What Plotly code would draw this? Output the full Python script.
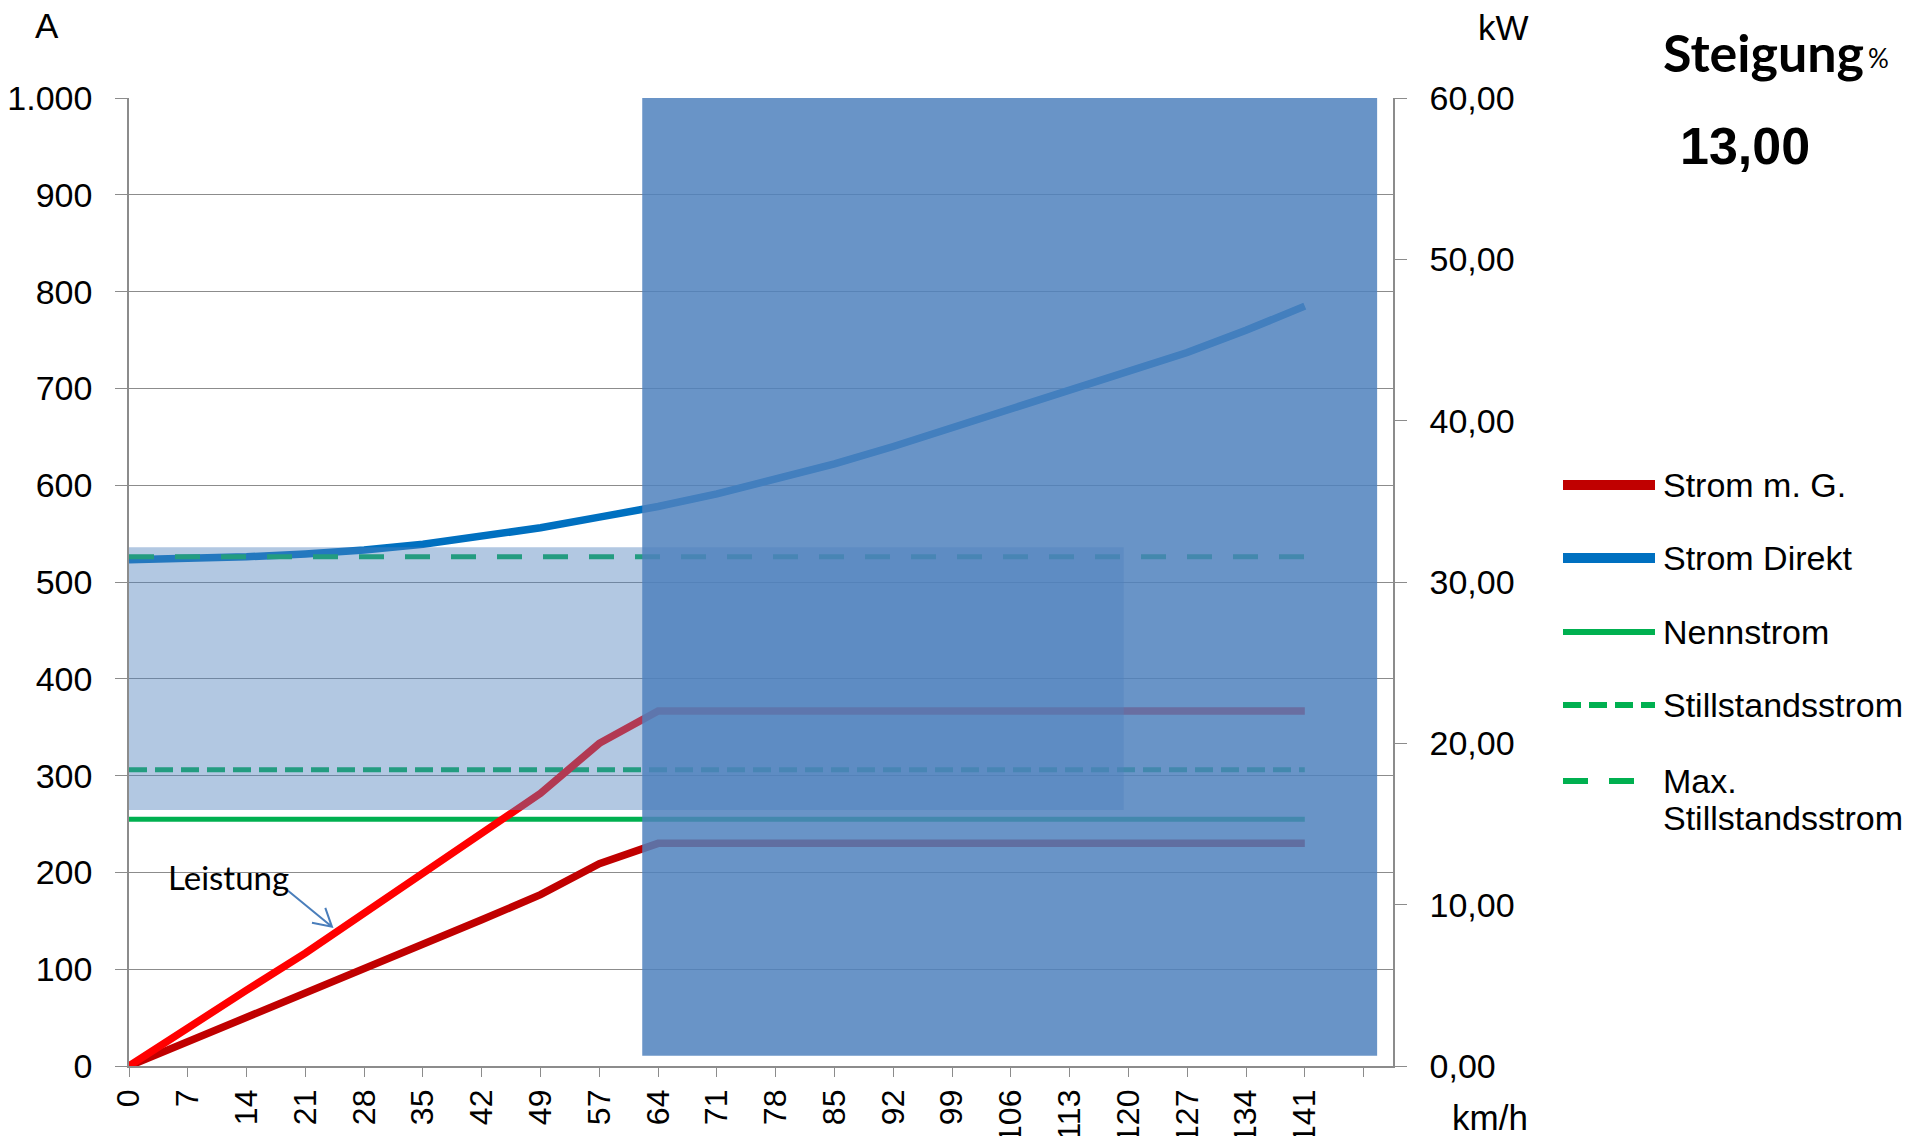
import plotly.graph_objects as go

# ---- data -------------------------------------------------------------
speed_labels = ["0", "7", "14", "21", "28", "35", "42", "49", "57", "64", "71",
                "78", "85", "92", "99", "106", "113", "120", "127", "134", "141"]

strom_mg = [0, 25, 50, 75, 99, 125, 151, 177, 209, 230, 230,
            230, 230, 230, 230, 230, 230, 230, 230, 230, 230]
strom_direkt = [523, 524, 526, 529, 533, 539, 547, 556, 567, 578, 591,
                606, 622, 640, 659, 678, 697, 716, 737, 760, 785]
nennstrom = [255, 255, 255, 255, 255, 255, 255, 255, 255, 255, 255,
             255, 255, 255, 255, 255, 255, 255, 255, 255, 255]
stillstandsstrom = [306, 306, 306, 306, 306, 306, 306, 306, 306, 306, 306,
                    306, 306, 306, 306, 306, 306, 306, 306, 306, 306]
max_stillstandsstrom = [526, 526, 526, 526, 526, 526, 526, 526, 526, 526, 526,
                        526, 526, 526, 526, 526, 526, 526, 526, 526, 526]
leistung_kw = [0, 2.4, 4.7, 7.0, 9.5, 12.0, 14.5, 16.9, 20.0, 22.0, 22.0,
               22.0, 22.0, 22.0, 22.0, 22.0, 22.0, 22.0, 22.0, 22.0, 22.0]

series_names = ["Strom m. G.", "Strom Direkt", "Nennstrom",
                "Stillstandsstrom", "Max. Stillstandsstrom"]

a_tick_values = [0, 100, 200, 300, 400, 500, 600, 700, 800, 900, 1000]
a_tick_labels = ["0", "100", "200", "300", "400", "500", "600", "700", "800", "900", "1.000"]
kw_tick_values = [0, 10, 20, 30, 40, 50, 60]
kw_tick_labels = ["0,00", "10,00", "20,00", "30,00", "40,00", "50,00", "60,00"]

steigung_value = "13,00"

# ---- styling ----------------------------------------------------------
W, H = 1926, 1136
L, R, T, B = 129, 1393, 98, 1066
GRID = "#8c8c8c"
ARIAL = "Liberation Sans, Arial, sans-serif"
CALIBRI = "Lato, Carlito, Calibri, sans-serif"

styles = [
    dict(color="#C00000", width=7.5, dash="solid"),
    dict(color="#0070C0", width=7.5, dash="solid"),
    dict(color="#00B050", width=5, dash="solid"),
    dict(color="#00B050", width=5, dash="18px,8px"),
    dict(color="#00B050", width=5, dash="25px,21px"),
]


def px(x):
    return (x - L) / (R - L)


def py(y):
    return (B - y) / (B - T)


def label(text, x, y, size, family=ARIAL, xanchor="center"):
    return dict(text=text, x=px(x), y=py(y), xref="paper", yref="paper",
                xanchor=xanchor, yanchor="middle", showarrow=False,
                font=dict(family=family, size=size, color="black"))


x_idx = list(range(len(speed_labels)))

fig = go.Figure()
for name, values, st in zip(series_names,
                            [strom_mg, strom_direkt, nennstrom,
                             stillstandsstrom, max_stillstandsstrom],
                            styles):
    fig.add_trace(go.Scatter(x=x_idx, y=values, name=name, mode="lines",
                             line=st, hoverinfo="skip", yaxis="y"))

fig.add_trace(go.Scatter(x=x_idx, y=leistung_kw, name="Leistung", mode="lines",
                         line=dict(color="#FF0000", width=7.5),
                         hoverinfo="skip", yaxis="y2"))

shapes = [
    # light band
    dict(type="rect", xref="x", yref="y", x0=0, x1=16.92, y0=264.5, y1=535.8,
         fillcolor="#4F81BD", opacity=0.44, line=dict(width=0), layer="above"),
    # dark block
    dict(type="rect", xref="x", yref="y", x0=8.73, x1=21.23, y0=10.6, y1=1000,
         fillcolor="#4F81BD", opacity=0.85, line=dict(width=0), layer="above"),
    # arrow pointing to the power curve
    dict(type="path", xref="x", yref="y",
         path="M 2.705,181 L 3.452,143.8 M 3.112,147.9 L 3.452,143.8 L 3.339,163.4",
         line=dict(color="#4A7EBB", width=2), layer="above"),
]

annotations = [
    label("A", 47, 25, 35),
    label("kW", 1503, 27, 35),
    label("km/h", 1490, 1117, 35),
    label("<b>Steigung</b>", 1661, 52, 52, family=CALIBRI, xanchor="left"),
    label("%", 1866, 58, 26, family=CALIBRI, xanchor="left"),
    label("<b>" + steigung_value + "</b>", 1745, 146, 52),
    label("Leistung", 228, 877, 33, family=CALIBRI),
]

# legend drawn at the right of the plot
legend_rows = [485, 558, 632, 705, 781]
for name, st, yrow in zip(series_names, styles, legend_rows):
    lw = st["width"] + 2.5 if st["dash"] == "solid" and st["width"] > 6 else st["width"] + 1
    shapes.append(dict(type="line", xref="paper", yref="paper",
                       x0=px(1563), x1=px(1655), y0=py(yrow), y1=py(yrow),
                       line=dict(color=st["color"], width=lw, dash=st["dash"])))
    lines = [name] if len(name) <= 16 else name.split(" ", 1)
    for k, part in enumerate(lines):
        annotations.append(label(part, 1661, yrow + 37 * k, 34, xanchor="left"))

fig.update_layout(
    width=W, height=H,
    margin=dict(l=L, r=W - R, t=T, b=H - B),
    paper_bgcolor="white", plot_bgcolor="white",
    showlegend=False,
    shapes=shapes, annotations=annotations,
    xaxis=dict(range=[0, 21.5], tickvals=list(range(len(speed_labels) + 1)),
               ticktext=speed_labels + [""], tickangle=-90, automargin=False,
               ticks="outside", ticklen=9, tickcolor=GRID, showline=True,
               linecolor=GRID, linewidth=1.5, showgrid=False, zeroline=False,
               ticklabelstandoff=0,
               tickfont=dict(family=ARIAL, size=32, color="black")),
    yaxis=dict(range=[0, 1000], tickvals=a_tick_values, ticktext=a_tick_labels,
               ticks="outside", ticklen=12, tickcolor=GRID, showline=True,
               linecolor=GRID, linewidth=1.5, showgrid=True, gridcolor=GRID,
               gridwidth=1.2, zeroline=False, ticklabelstandoff=16,
               automargin=False,
               tickfont=dict(family=ARIAL, size=34, color="black")),
    yaxis2=dict(range=[0, 60], overlaying="y", side="right",
                tickvals=kw_tick_values, ticktext=kw_tick_labels,
                ticks="outside", ticklen=12, tickcolor=GRID, showline=True,
                linecolor=GRID, linewidth=1.5, showgrid=False, zeroline=False,
                ticklabelstandoff=16, automargin=False,
                tickfont=dict(family=ARIAL, size=34, color="black")),
)

fig.write_html("out.html", config={"displayModeBar": False})
